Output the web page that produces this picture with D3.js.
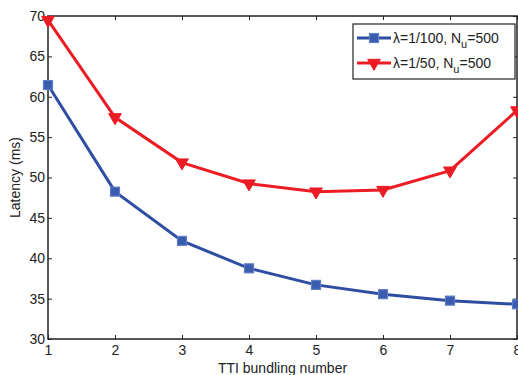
<!DOCTYPE html>
<html>
<head>
<meta charset="utf-8">
<script src="https://cdn.jsdelivr.net/npm/d3@7"></script>
<style>
  body { margin: 0; background: #fff; }
  text { font-family: "Liberation Sans", Arial, sans-serif; fill: #222; }
</style>
</head>
<body>
<div id="chart"></div>
<script>
// bundling numbers on x
const bundling = [1, 2, 3, 4, 5, 6, 7, 8];
// lambda = 1/100, Nu = 500
const latencyLow = [61.45, 48.25, 42.15, 38.75, 36.7, 35.55, 34.75, 34.3];
// lambda = 1/50, Nu = 500
const latencyHigh = [69.5, 57.45, 51.85, 49.25, 48.25, 48.45, 50.85, 58.3];
const yTicks = [30, 35, 40, 45, 50, 55, 60, 65, 70];

const W = 518, H = 375;
const margin = { top: 16, right: 1, bottom: 36, left: 48 };
const width = W - margin.left - margin.right,
  height = H - margin.top - margin.bottom;

const blue = '#2f4ea2', red = '#ec1c24';
const fs = '14px';

const svg = d3.select('#chart').append('svg')
  .attr('width', W)
  .attr('height', H);

const g = svg.append('g')
  .attr('transform', 'translate(' + margin.left + ',' + margin.top + ')');

const x = d3.scaleLinear().domain([1, 8]).range([0, width]);
const y = d3.scaleLinear().domain([30, 70]).range([height, 0]);

// axes with inward ticks, matlab-style box
const xAxis = d3.axisBottom(x).tickValues(bundling).tickSize(-4).tickPadding(6).tickFormat(d3.format('d'));
const yAxis = d3.axisLeft(y).tickValues(yTicks).tickSize(-4).tickPadding(3);

g.append('g')
  .attr('class', 'x axis')
  .attr('transform', 'translate(0,' + height + ')')
  .call(xAxis);

g.append('g')
  .attr('class', 'y axis')
  .call(yAxis);

g.append('g')
  .call(d3.axisTop(x).tickValues(bundling).tickSize(-4).tickFormat(''));
g.append('g')
  .attr('transform', 'translate(' + width + ',0)')
  .call(d3.axisRight(y).tickValues(yTicks).tickSize(-4).tickFormat(''));

g.selectAll('.domain').remove();
g.selectAll('.tick line').style('stroke', '#222').style('stroke-width', 1);
g.selectAll('.tick text').style('font-size', fs);

g.append('rect')
  .attr('width', width)
  .attr('height', height)
  .style('fill', 'none')
  .style('stroke', '#222')
  .style('stroke-width', 1.5);

const line = d3.line()
  .x((d, i) => x(bundling[i]))
  .y(d => y(d));

const tri = d3.symbol().type(d3.symbolTriangle).size(70);

// blue series
g.append('path')
  .datum(latencyLow)
  .attr('d', line)
  .style('fill', 'none')
  .style('stroke', blue)
  .style('stroke-width', 3);

g.selectAll('.sq')
  .data(latencyLow)
  .enter().append('rect')
  .attr('class', 'sq')
  .attr('x', (d, i) => x(bundling[i]) - 4.5)
  .attr('y', d => y(d) - 4.5)
  .attr('width', 9)
  .attr('height', 9)
  .style('fill', '#3a5cb0')
  .style('stroke', '#5f7cc4')
  .style('stroke-width', 1.2);

// red series
g.append('path')
  .datum(latencyHigh)
  .attr('d', line)
  .style('fill', 'none')
  .style('stroke', red)
  .style('stroke-width', 3);

g.selectAll('.tri')
  .data(latencyHigh)
  .enter().append('path')
  .attr('class', 'tri')
  .attr('d', tri)
  .attr('transform', (d, i) => 'translate(' + x(bundling[i]) + ',' + y(d) + ') rotate(180)')
  .style('fill', red)
  .style('stroke', red)
  .style('stroke-width', 1);

// legend
const legend = svg.append('g').attr('transform', 'translate(353,24)');
legend.append('rect')
  .attr('width', 162)
  .attr('height', 55)
  .style('fill', '#fff')
  .style('stroke', '#222')
  .style('stroke-width', 1.2);

const rows = [
  { color: blue, type: 'sq', label: 'λ=1/100, N', y: 14 },
  { color: red, type: 'tri', label: 'λ=1/50, N', y: 39 }
];
rows.forEach(r => {
  const it = legend.append('g').attr('transform', 'translate(0,' + r.y + ')');
  it.append('line')
    .attr('x1', 4).attr('x2', 38)
    .style('stroke', r.color).style('stroke-width', 3);
  if (r.type === 'sq') {
    it.append('rect').attr('x', 16.5).attr('y', -4.5).attr('width', 9).attr('height', 9)
      .style('fill', '#3a5cb0').style('stroke', '#5f7cc4').style('stroke-width', 1.2);
  } else {
    it.append('path').attr('d', tri).attr('transform', 'translate(21,0) rotate(180)')
      .style('fill', red).style('stroke', red);
  }
  const t = it.append('text').attr('x', 40).attr('dy', '0.36em').style('font-size', fs);
  t.append('tspan').text(r.label);
  t.append('tspan').attr('dy', 5).style('font-size', '11px').text('u');
  t.append('tspan').attr('dy', -5).text('=500');
});

// axis labels
svg.append('text')
  .attr('x', margin.left + width / 2)
  .attr('y', 373)
  .attr('text-anchor', 'middle')
  .style('font-size', fs)
  .text('TTI bundling number');

svg.append('text')
  .attr('transform', 'translate(20,' + (margin.top + height / 2) + ') rotate(-90)')
  .attr('text-anchor', 'middle')
  .style('font-size', fs)
  .text('Latency (ms)');
</script>
</body>
</html>
